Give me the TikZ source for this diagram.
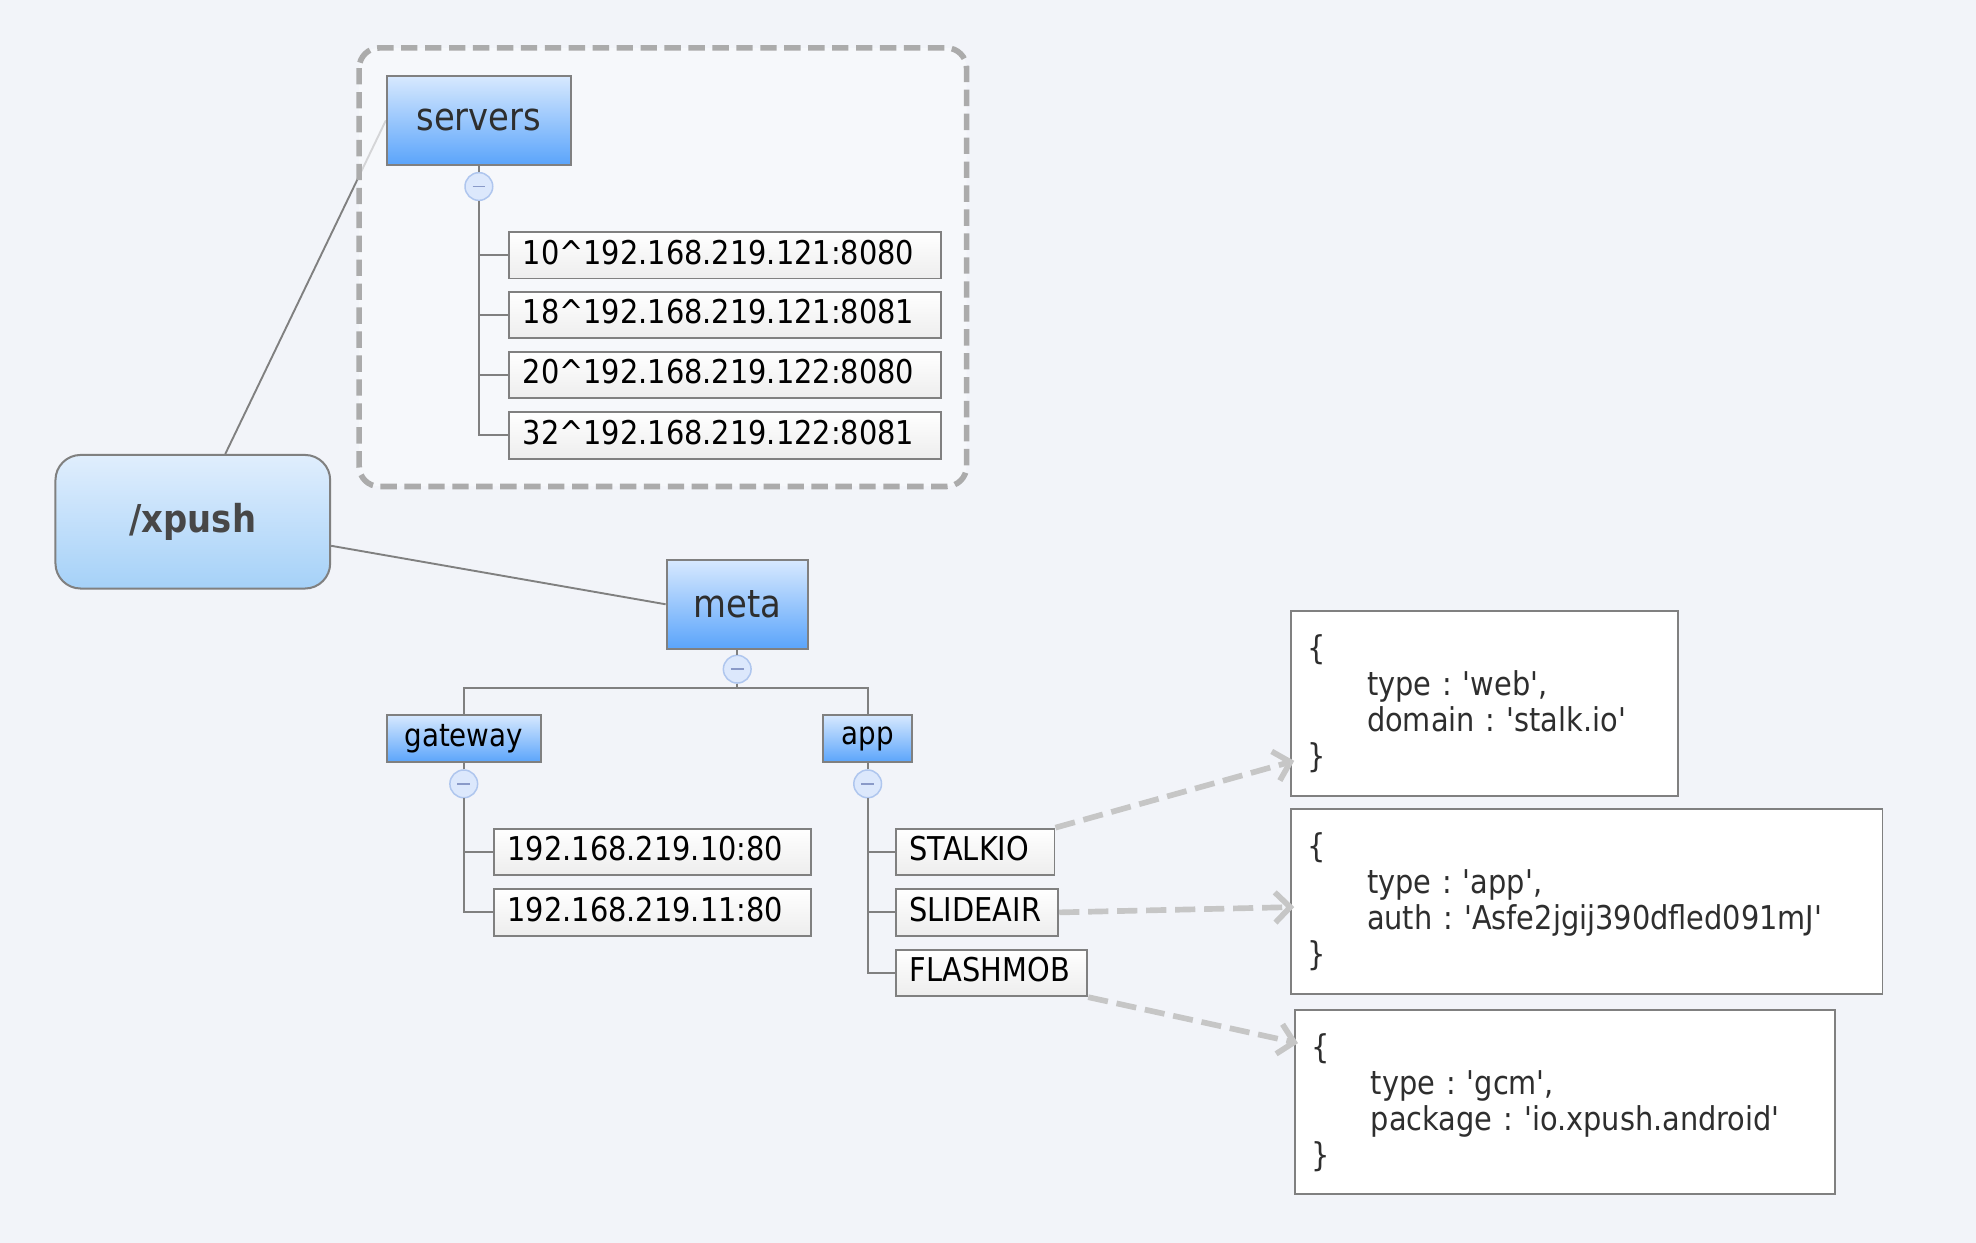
\documentclass[tikz,border=0pt]{standalone}
\usepackage{fontspec}
\setmainfont{DejaVu Sans}[Ligatures=TeXOff,FakeStretch=0.88]
\usetikzlibrary{arrows.meta,calc}
\pgfdeclarelayer{background}
\pgfsetlayers{background,main}
\definecolor{bg}{HTML}{F2F4F9}
\definecolor{grpfill}{HTML}{F9FAFC}
\definecolor{grpline}{HTML}{ABABAB}
\definecolor{edge}{HTML}{808080}
\definecolor{bluetop}{HTML}{D8E9FE}
\definecolor{bluebot}{HTML}{5AA4FB}
\definecolor{roottop}{HTML}{E0EEFD}
\definecolor{rootbot}{HTML}{A5D1F8}
\definecolor{circfill}{HTML}{DCE8FC}
\definecolor{circline}{HTML}{AFC6EE}
\definecolor{minusc}{HTML}{8A9AC8}
\definecolor{arrowc}{HTML}{C6C6C6}
\definecolor{txt}{HTML}{2E2E2E}
\frenchspacing
\begin{document}
\begin{tikzpicture}[x=1pt,y=-1pt,
  tree/.style={draw=edge,line width=1.5pt},
  bluebox/.style={draw=edge,line width=1.6pt,top color=bluetop,bottom color=bluebot,text=txt,inner sep=0pt},
  bigblue/.style={bluebox,font=\fontsize{30.5}{36}\selectfont,minimum height=71pt},
  smallblue/.style={bluebox,font=\fontsize{25}{30}\selectfont,text=black,minimum height=38pt},
  leaf/.style={draw=edge,line width=1.5pt,top color=white,bottom color=black!7,inner xsep=11pt,inner ysep=0pt,minimum height=37pt,text height=19pt,text depth=5pt,align=left,font=\fontsize{26}{30}\selectfont,anchor=west},
  note/.style={draw=edge,line width=1.5pt,fill=white,inner xsep=13pt,align=left,text=txt,font=\fontsize{26}{28.5}\selectfont,anchor=north west},
  toggle/.style={circle,draw=circline,line width=1.2pt,fill=circfill,minimum size=22pt,inner sep=0pt,path picture={\draw[minusc,line width=1.5pt] ([xshift=-5pt]path picture bounding box.center) -- ([xshift=5pt]path picture bounding box.center);}},
  link/.style={draw=arrowc,line width=4.5pt,dash pattern=on 16pt off 7pt,-{Straight Barb[length=12pt,width=24pt]}},
]
\useasboundingbox (0,0) rectangle (1568,986);

% root
\node[draw=edge,line width=1.6pt,rounded corners=20pt,top color=roottop,bottom color=rootbot,minimum width=218pt,minimum height=106pt,font=\bfseries\fontsize{30.5}{36}\selectfont,text=black!72] (xpush) at (153,414) {/xpush};

% servers
\node[bigblue,minimum width=146pt] (servers) at (380,95.5) {servers};
\node[toggle] (t1) at (380,148) {};
\node[leaf,text width=321pt] (s1) at (403,202.5) {10\textasciicircum 192.168.219.121:8080};
\node[leaf,text width=321pt] (s2) at (403,250) {18\textasciicircum 192.168.219.121:8081};
\node[leaf,text width=321pt] (s3) at (403,297.5) {20\textasciicircum 192.168.219.122:8080};
\node[leaf,text width=321pt] (s4) at (403,345.5) {32\textasciicircum 192.168.219.122:8081};

% meta
\node[bigblue,minimum width=112pt] (meta) at (585,479.5) {meta};
\node[toggle] (t2) at (585,531) {};
\node[smallblue,minimum width=122pt] (gateway) at (368,586) {gateway};
\node[smallblue,minimum width=71pt] (app) at (688.5,586) {app};
\node[toggle] (t3) at (368,622) {};
\node[toggle] (t4) at (688.5,622) {};
\node[leaf,text width=230pt] (g1) at (391,676) {192.168.219.10:80};
\node[leaf,text width=230pt] (g2) at (391,724) {192.168.219.11:80};
\node[leaf,text width=104pt] (a1) at (710,676) {STALKIO};
\node[leaf,text width=107pt] (a2) at (710,724) {SLIDEAIR};
\node[leaf,text width=130pt] (a3) at (710,772) {FLASHMOB};

% notes
\node[note,text width=281pt,minimum height=147pt] (n1) at (1024,484) {\{\\\hspace*{47pt}type : 'web',\\\hspace*{47pt}domain : 'stalk.io'\\\}};
\node[note,text width=443pt,minimum height=147pt] (n2) at (1024,641) {\{\\\hspace*{47pt}type : 'app',\\\hspace*{47pt}auth : 'Asfe2jgij390dfled091mJ'\\\}};
\node[note,text width=402pt,minimum height=146pt] (n3) at (1027,801) {\{\\\hspace*{47pt}type : 'gcm',\\\hspace*{47pt}package : 'io.xpush.android'\\\}};

% tree connectors
\draw[tree] (servers.south) -- (t1.north);
\foreach \n in {s1,s2,s3,s4} \draw[tree] (t1.south) |- (\n.west);
\draw[tree] (meta.south) -- (t2.north);
\draw[tree] (t2.south) -- ++(0,3) -| (gateway.north);
\draw[tree] (t2.south) -- ++(0,3) -| (app.north);
\draw[tree] (gateway.south) -- (t3.north);
\foreach \n in {g1,g2} \draw[tree] (t3.south) |- (\n.west);
\draw[tree] (app.south) -- (t4.north);
\foreach \n in {a1,a2,a3} \draw[tree] (t4.south) |- (\n.west);
\draw[tree] (xpush) -- (meta.west);

% dashed links
\draw[link] (a1.north east) -- ([shift={(3,45.5)}]n1.west);
\draw[link] (a2.east) -- ([shift={(3,4.5)}]n2.west);
\draw[link] (a3.south east) -- ([shift={(3,-47)}]n3.west);

\begin{pgfonlayer}{background}
\fill[bg] (0,0) rectangle (1568,986);
\draw[tree] (xpush) -- (servers.west);
\draw[draw=grpline,line width=4.5pt,dash pattern=on 13pt off 6pt,rounded corners=16pt,fill=grpfill,fill opacity=0.7] (285,38) rectangle (767,386);
\end{pgfonlayer}
\end{tikzpicture}
\end{document}
